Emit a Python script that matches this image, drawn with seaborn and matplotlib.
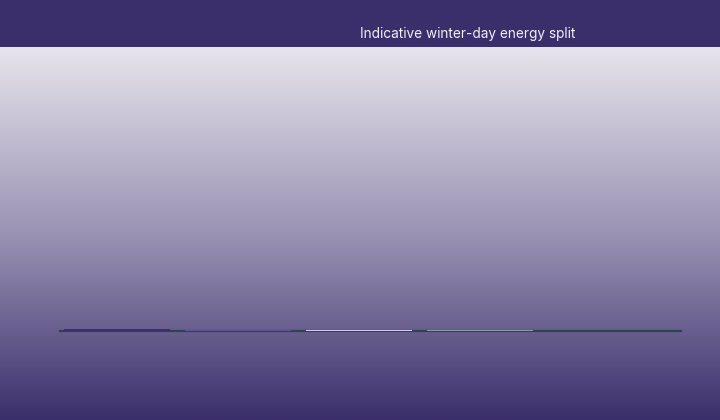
import numpy as np
import pandas as pd
import matplotlib
matplotlib.use("Agg")
import matplotlib.pyplot as plt
import seaborn as sns
from matplotlib.colors import LinearSegmentedColormap
from matplotlib.patches import Rectangle

# ---- data ----
categories = ["Space heating", "Hot water", "Lighting", "Appliances", "Cooking"]
shares = [0.38, 0.22, 0.18, 0.14, 0.08]
bar_colors = ["#3b2f6b", "#5f548f", "#d2caf5", "#8b99ab", "#334155"]
title_text = "Indicative winter-day energy split"

df = pd.DataFrame({"category": categories, "share": shares})

sns.set_theme(style="white")
plt.rcParams["font.family"] = ["Inter", "DejaVu Sans"]

W, H = 720, 420
fig = plt.figure(figsize=(W / 100, H / 100), dpi=100)
fig.patch.set_facecolor("#3b2f6b")

# gradient background (below header)
header_px = 47
bg = fig.add_axes([0, 0, 1, (H - header_px) / H], zorder=0)
grad = np.linspace(0, 1, 256).reshape(-1, 1)
cmap = LinearSegmentedColormap.from_list("bg", ["#e6e4eb", "#9a93b4", "#3b2f6b"])
bg.imshow(grad, aspect="auto", cmap=cmap, extent=[0, 1, 0, 1], origin="upper")
bg.set_axis_off()

# header band
fig.patches.append(Rectangle((0, 1 - header_px / H), 1, header_px / H,
                             transform=fig.transFigure, facecolor="#3b2f6b",
                             edgecolor="none", zorder=1))
fig.text(468 / W, 1 - 34 / H, title_text, color="#f1eff8", fontsize=9.8,
         ha="center", va="center", zorder=5)

# main axes
left, right, base, top = 60, 681, 330.5, 47
ax = fig.add_axes([left / W, (H - base) / H, (right - left) / W, (base - top) / H], zorder=2)
ax.patch.set_alpha(0)
sns.barplot(data=df, x="category", y="share", hue="category", palette=bar_colors,
            legend=False, ax=ax, width=0.876, saturation=1, zorder=3,
            edgecolor="none", linewidth=0)
ax.set_ylim(0, 100)
ax.set_xlim(-0.471, 4.661)
for s in ["top", "right", "left"]:
    ax.spines[s].set_visible(False)
ax.spines["bottom"].set_color("#334155")
ax.spines["bottom"].set_linewidth(1.6)
ax.spines["bottom"].set_zorder(2)
ax.set_xticks([])
ax.set_yticks([])
ax.set_xlabel("")
ax.set_ylabel("")

fig.savefig("out.png", dpi=100)
